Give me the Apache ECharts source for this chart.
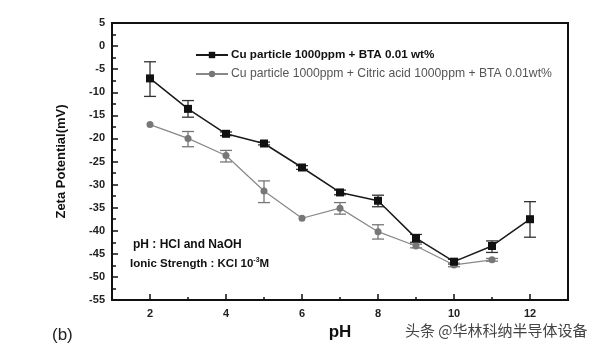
<!DOCTYPE html>
<html>
<head>
<meta charset="utf-8">
<script src="https://cdn.jsdelivr.net/npm/echarts@6/dist/echarts.min.js"></script>
<style>
  html, body { margin: 0; padding: 0; background: #fff; }
  #chart { width: 600px; height: 348px; }
</style>
</head>
<body>
<div id="chart"></div>
<script>
// pH values of the measurements
const phValues = [2, 3, 4, 5, 6, 7, 8, 9, 10, 11, 12];

// Cu particle 1000ppm + BTA 0.01 wt%
const btaZeta = [-7.0, -13.6, -19.0, -21.1, -26.3, -31.7, -33.5, -41.6, -46.7, -43.3, -37.5];
const btaErrHigh = [-3.4, -11.8, -18.6, -20.8, -25.9, -31.2, -32.3, -40.8, -46.2, -42.2, -33.7];
const btaErrLow = [-10.9, -15.4, -19.4, -21.4, -26.7, -32.2, -34.8, -42.5, -47.2, -44.7, -41.4];

// Cu particle 1000ppm + Citric acid 1000ppm + BTA 0.01wt%
const citricPh = [2, 3, 4, 5, 6, 7, 8, 9, 10, 11];
const citricZeta = [-17.0, -20.0, -23.7, -31.4, -37.3, -35.1, -40.2, -43.3, -47.4, -46.3];
const citricErrHigh = [-17.0, -18.5, -22.6, -29.2, -37.3, -33.9, -38.7, -42.9, -47.0, -46.0];
const citricErrLow = [-17.0, -21.8, -25.1, -33.9, -37.3, -36.4, -41.8, -43.7, -47.8, -46.6];

const seriesNames = [
  'Cu particle 1000ppm + BTA 0.01 wt%',
  'Cu particle 1000ppm + Citric acid 1000ppm + BTA 0.01wt%'
];

const xMajorTicks = [2, 4, 6, 8, 10, 12];
const xMinorTicks = [3, 5, 7, 9, 11];

const fontMain = '"Liberation Sans", Arial, sans-serif';

function errorBarSeries(xs, hi, lo, color) {
  const data = xs.map((x, i) => [x, lo[i], hi[i]]);
  return {
    type: 'custom',
    data: data,
    z: 1,
    silent: true,
    renderItem: function (params, api) {
      const x = api.value(0);
      const p1 = api.coord([x, api.value(1)]);
      const p2 = api.coord([x, api.value(2)]);
      if (Math.abs(p1[1] - p2[1]) < 1) return null;
      const cap = 6;
      const style = { stroke: color, lineWidth: 1.3 };
      return {
        type: 'group',
        children: [
          { type: 'line', shape: { x1: p1[0], y1: p1[1], x2: p2[0], y2: p2[1] }, style: style },
          { type: 'line', shape: { x1: p1[0] - cap, y1: p1[1], x2: p1[0] + cap, y2: p1[1] }, style: style },
          { type: 'line', shape: { x1: p2[0] - cap, y1: p2[1], x2: p2[0] + cap, y2: p2[1] }, style: style }
        ]
      };
    }
  };
}

const chart = echarts.init(document.getElementById('chart'), null, { renderer: 'canvas' });

const option = {
  backgroundColor: '#ffffff',
  animation: false,
  grid: {
    left: 112, right: 32, top: 23, bottom: 48,
    show: true, borderColor: '#111', borderWidth: 2, backgroundColor: 'transparent'
  },
  legend: {
    orient: 'vertical',
    left: 195,
    top: 49,
    padding: 0,
    itemWidth: 32,
    itemHeight: 8,
    itemGap: 7,
    data: [
      { name: seriesNames[0], textStyle: { color: '#111', fontWeight: 'bold', fontSize: 11.7 } },
      { name: seriesNames[1], textStyle: { color: '#555', fontWeight: 'normal', fontSize: 12.2 } }
    ],
    textStyle: { fontFamily: fontMain, padding: [0, 0, 0, -2] }
  },
  xAxis: [
    {
      type: 'value', min: 1, max: 13, interval: 1,
      name: 'pH', nameLocation: 'middle', nameGap: 22,
      nameTextStyle: { fontFamily: fontMain, fontWeight: 'bold', fontSize: 17, color: '#111' },
      axisLine: { show: true, onZero: false, lineStyle: { color: '#111', width: 2 } },
      axisTick: { show: true, inside: true, length: 6, customValues: xMajorTicks, lineStyle: { color: '#111', width: 1.5 } },
      axisLabel: { customValues: xMajorTicks, margin: 8, fontFamily: fontMain, fontWeight: 'bold', fontSize: 11, color: '#222' },
      splitLine: { show: false }
    },
    {
      type: 'value', min: 1, max: 13, interval: 1, position: 'bottom',
      axisLine: { show: false, onZero: false },
      axisTick: { show: true, inside: true, length: 3, customValues: xMinorTicks, lineStyle: { color: '#111', width: 1.5 } },
      axisLabel: { show: false },
      splitLine: { show: false }
    }
  ],
  yAxis: {
    type: 'value', min: -55, max: 5, interval: 5,
    name: 'Zeta Potential(mV)', nameLocation: 'middle', nameGap: 44, nameRotate: 90,
    nameTextStyle: { fontFamily: fontMain, fontWeight: 'bold', fontSize: 13, color: '#111' },
    axisLine: { show: true, onZero: false, lineStyle: { color: '#111', width: 2 } },
    axisTick: { show: true, inside: true, length: 6, lineStyle: { color: '#111', width: 1.5 } },
    minorTick: { show: true, splitNumber: 2, length: 4, lineStyle: { color: '#111', width: 1.5 } },
    axisLabel: { margin: 7, fontFamily: fontMain, fontWeight: 'bold', fontSize: 11, color: '#222' },
    splitLine: { show: false }
  },
  series: [
    errorBarSeries(phValues, btaErrHigh, btaErrLow, '#333'),
    errorBarSeries(citricPh, citricErrHigh, citricErrLow, '#777'),
    {
      name: seriesNames[0], type: 'line', z: 3,
      data: phValues.map((x, i) => [x, btaZeta[i]]),
      symbol: 'rect', symbolSize: 8,
      lineStyle: { color: '#1a1a1a', width: 1.5 },
      itemStyle: { color: '#111' }
    },
    {
      name: seriesNames[1], type: 'line', z: 2,
      data: citricPh.map((x, i) => [x, citricZeta[i]]),
      symbol: 'circle', symbolSize: 7,
      lineStyle: { color: '#888', width: 1.2 },
      itemStyle: { color: '#777' }
    }
  ],
  graphic: [
    { type: 'text', left: 133, top: 239, style: { text: 'pH : HCl and NaOH', font: 'bold 12px ' + fontMain, fill: '#111' } },
    { type: 'text', left: 130, top: 257, style: { rich: { b: { font: 'bold 11.5px ' + fontMain, fill: '#111' }, s: { font: 'bold 7px ' + fontMain, fill: '#111', verticalAlign: 'top', padding: [0, 0, 6, 0] } }, text: '{b|Ionic Strength : KCl 10}{s|-3}{b|M}' } },
    { type: 'text', left: 52, top: 327, style: { text: '(b)', font: '17px ' + fontMain, fill: '#222' } },
    { type: 'text', left: 405, top: 323, style: { text: '头条 @华林科纳半导体设备', font: '15px "Noto Sans CJK SC", sans-serif', fill: '#444' } }
  ]
};

chart.setOption(option);
</script>
</body>
</html>
